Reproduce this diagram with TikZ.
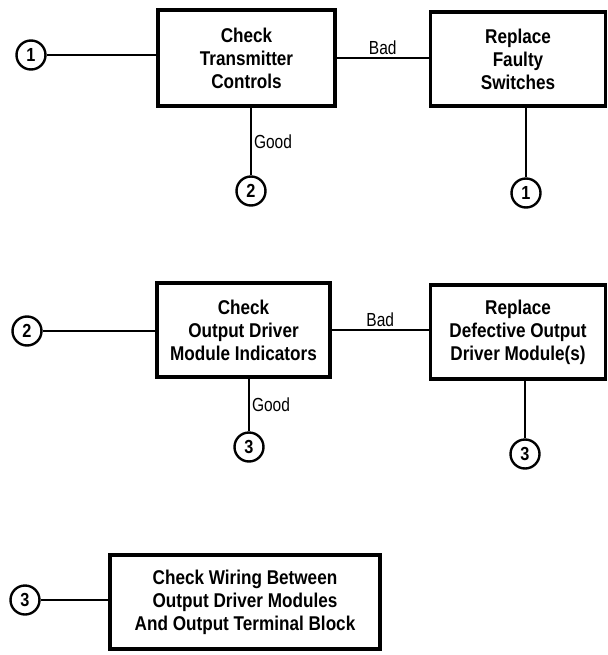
\documentclass[tikz,border=0pt]{standalone}
\usepackage{fontspec}
\newfontfamily\flowfont[FakeStretch=0.86]{Liberation Sans}
\newfontfamily\lblfont[FakeStretch=0.82]{Liberation Sans}
\usetikzlibrary{positioning}

\begin{document}
\begin{tikzpicture}[
    x=1bp, y=-1bp,
    box/.style={draw, line width=3.5bp, inner sep=2pt, align=center,
        font=\flowfont\bfseries\fontsize{20}{23}\selectfont},
    conn/.style={draw, circle, line width=2.4bp, minimum size=29bp, inner sep=0pt,
        font=\flowfont\bfseries\fontsize{19}{19}\selectfont},
    lbl/.style={inner sep=2bp, font=\lblfont\fontsize{19}{19}\selectfont},
    wire/.style={line width=2bp}
]
    \useasboundingbox (0,0) rectangle (608,655);

    % Top row
    \node[conn] (c1a) at (31,55) {1};
    \node[box, minimum width=177bp, minimum height=96bp] (xmit) at (246.5,58) {Check\\Transmitter\\Controls};
    \node[box, minimum width=175bp, minimum height=94bp] (switch) at (518,59) {Replace\\Faulty\\Switches};
    \node[conn] (c2a) at (251,191) {2};
    \node[conn] (c1b) at (526,193) {1};

    % Middle row
    \node[conn] (c2b) at (27,331) {2};
    \node[box, minimum width=173bp, minimum height=94bp] (odm) at (243.5,330) {Check\\Output Driver\\Module Indicators};
    \node[box, minimum width=175bp, minimum height=94bp] (odmrep) at (518,332) {Replace\\Defective Output\\Driver Module(s)};
    \node[conn] (c3a) at (249,447) {3};
    \node[conn] (c3b) at (525,454) {3};

    % Bottom row
    \node[conn] (c3c) at (25,600) {3};
    \node[box, minimum width=270bp, minimum height=94bp] (wiring) at (245,602) {Check Wiring Between\\Output Driver Modules\\And Output Terminal Block};

    % Edges
    \draw[wire] (c1a) -- (c1a -| xmit.west);
    \draw[wire] (xmit.east) -- (xmit.east -| switch.west) node[lbl, midway, above] (bad1) {Bad};
    \draw[wire] (xmit.south -| c2a) -- (c2a) node[lbl, midway, right] (good1) {Good};
    \draw[wire] (switch.south -| c1b) -- (c1b);
    \draw[wire] (c2b) -- (c2b -| odm.west);
    \draw[wire] (odm.east) -- (odm.east -| odmrep.west) node[lbl, midway, above] (bad2) {Bad};
    \draw[wire] (odm.south -| c3a) -- (c3a) node[lbl, midway, right] (good2) {Good};
    \draw[wire] (odmrep.south -| c3b) -- (c3b);
    \draw[wire] (c3c) -- (c3c -| wiring.west);
\end{tikzpicture}
\end{document}
